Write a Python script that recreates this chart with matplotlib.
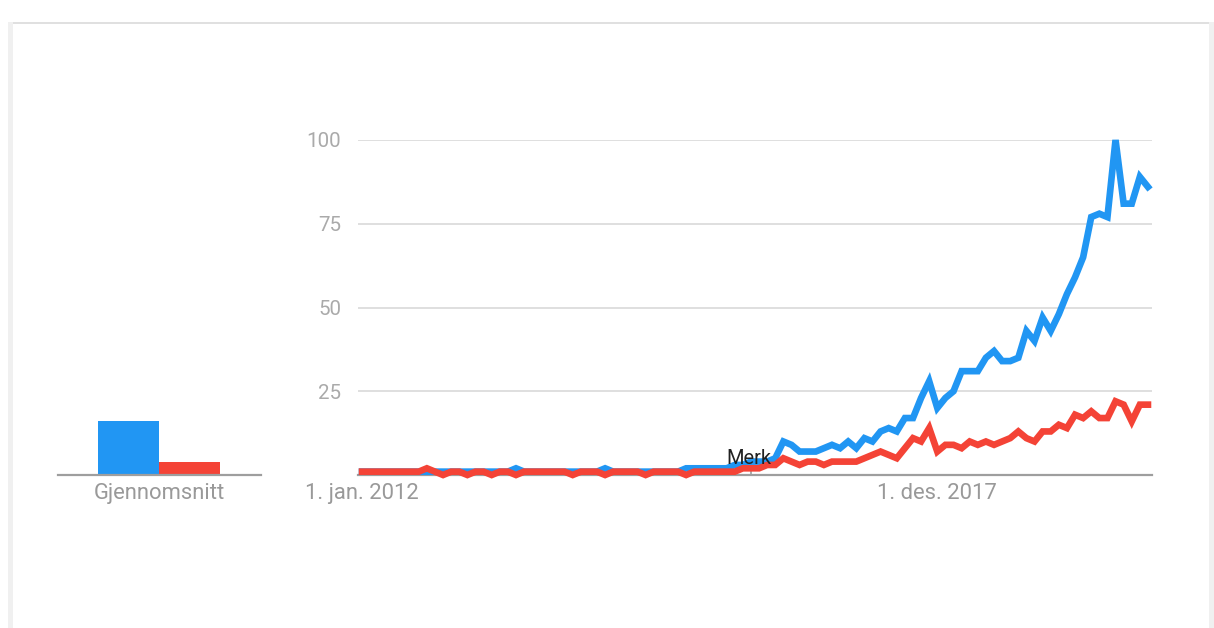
import matplotlib.pyplot as plt
from matplotlib.patches import Rectangle
import numpy as np

plt.rcParams['font.family'] = ['Roboto', 'DejaVu Sans']

# monthly interest, jan 2012 - feb 2020
blue = [1,1,1,1,1,1,1,1,1,1, 1,1,1,1,1,1,1,1,1,2,
        1,1,1,1,1,1,1,1,1,1, 2,1,1,1,1,1,1,1,1,1,
        2,2,2,2,2,2,3,3,4,4, 4,5,10,9,7,7,7,8,9,8,
        10,8,11,10,13,14,13,17,17,23, 28,20,23,25,31,31,31,35,37,34,
        34,35,43,40,47,43,48,54,59,65, 77,78,77,100,81,81,89,86]
red = [1,1,1,1,1,1,1,1,2,1, 0,1,1,0,1,1,0,1,1,0,
       1,1,1,1,1,1,0,1,1,1, 0,1,1,1,1,0,1,1,1,1,
       0,1,1,1,1,1,1,2,2,2, 3,3,5,4,3,4,4,3,4,4,
       4,4,5,6,7,6,5,8,11,10, 14,7,9,9,8,10,9,10,9,10,
       11,13,11,10,13,13,15,14,18,17, 19,17,17,22,21,16,21,21]
averages = [16, 4]
avg_label = 'Gjennomsnitt'
x_ticks = [0, 71]
x_ticklabels = ['1. jan. 2012', '1. des. 2017']
y_ticks = [25, 50, 75, 100]
note_idx = 48
note_text = 'Merk'

BLUE = '#2196F3'
RED = '#F44336'
W, H = 1214, 628

fig = plt.figure(figsize=(W / 100, H / 100), dpi=100)
fig.patch.set_facecolor('white')

def fx(px):
    return px / W

def fy(py):
    return 1 - py / H

# card border
fig.add_artist(Rectangle((fx(8), 0), fx(5), fy(22), transform=fig.transFigure, color='#f0f0f0', lw=0))
fig.add_artist(Rectangle((fx(1209), 0), fx(5), fy(22), transform=fig.transFigure, color='#f0f0f0', lw=0))
fig.add_artist(Rectangle((fx(13), fy(24)), fx(1196), 2 / H, transform=fig.transFigure, color='#e0e0e0', lw=0))

# main line chart
ax = fig.add_axes([fx(358), fy(475), fx(1152 - 358), (475 - 140) / H])
x = np.arange(len(blue))
ax.plot(x, blue, color=BLUE, lw=4.8, solid_joinstyle='miter', clip_on=False, zorder=3)
ax.plot(x, red, color=RED, lw=4.8, solid_joinstyle='miter', clip_on=False, zorder=4)
ax.set_xlim(-0.5, 97.5)
ax.set_ylim(0, 100)
ax.set_yticks(y_ticks)
ax.set_yticklabels([str(v) for v in y_ticks])
ax.set_xticks(x_ticks)
ax.set_xticklabels(x_ticklabels)
ax.tick_params(length=0, labelsize=14.8, labelcolor='#aaaaaa', pad=12)
ax.tick_params(axis='x', labelsize=15.8, labelcolor='#999999', pad=6)
ax.grid(axis='y', color='#dcdcdc', lw=1.3)
ax.set_axisbelow(True)
for s in ['top', 'right', 'left']:
    ax.spines[s].set_visible(False)
ax.spines['bottom'].set_color('#9e9e9e')
ax.spines['bottom'].set_linewidth(1.6)
ax.spines['bottom'].set_zorder(2)

# note marker
ax.plot([note_idx, note_idx], [0, 2], color='#9e9e9e', lw=1.2, zorder=2)
ax.text(note_idx - 0.2, 2.2, note_text, ha='center', va='bottom', fontsize=14.5, color='#212121', zorder=5)

# averages bars
bx = fig.add_axes([fx(58), fy(475), fx(261 - 58), (475 - 140) / H])
bx.bar([0, 1], averages, width=1.0, color=[BLUE, RED])
bx.set_xlim(-1.156, 2.17)
bx.set_ylim(0, 100)
bx.set_yticks([])
bx.set_xticks([0.5])
bx.set_xticklabels([avg_label])
bx.tick_params(length=0, labelsize=15.8, labelcolor='#999999', pad=6)
for s in ['top', 'right', 'left']:
    bx.spines[s].set_visible(False)
bx.spines['bottom'].set_color('#9e9e9e')
bx.spines['bottom'].set_linewidth(1.6)
bx.patch.set_alpha(0)

fig.savefig('out.png', dpi=100)
